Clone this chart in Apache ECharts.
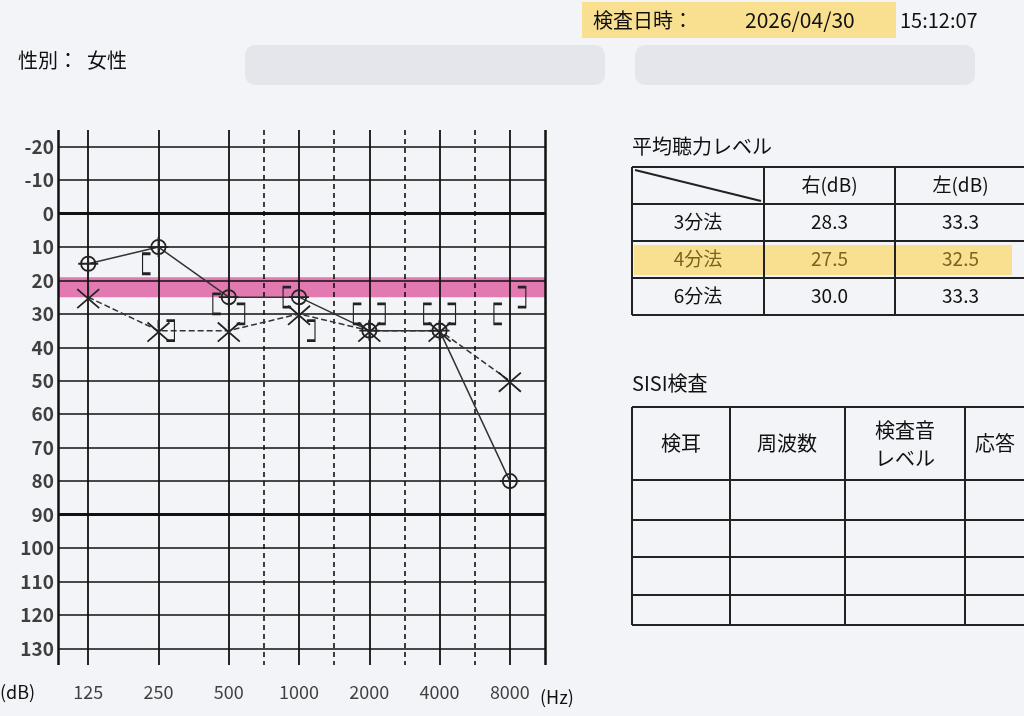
<!DOCTYPE html>
<html><head><meta charset="utf-8">
<script src="https://cdn.jsdelivr.net/npm/echarts@6/dist/echarts.min.js"></script>
<style>html,body{margin:0;background:#f3f4f8}#c{width:1024px;height:716px}</style></head>
<body><div id="c"></div>
<script>
const freqs = ['125','250','500','1000','2000','4000','8000'];
const halfFreqs = [750,1500,3000,6000];
const dbTicks = [-20,-10,0,10,20,30,40,50,60,70,80,90,100,110,120,130];
const rightAir = [15,10,25,25,35,35,80];
const leftAir = [25,35,35,30,35,35,50];
const rightBone = [null,15,27,25,30,30,30];
const leftBone = [null,35,30,35,30,30,25];
const tableRows = ['3分法','4分法','6分法'];
const tableRight = ['28.3','27.5','30.0'];
const tableLeft = ['33.3','32.5','33.3'];

const chart = echarts.init(document.getElementById('c'));
const F = '"Noto Sans CJK JP", sans-serif';
const pts = (arr, off) => arr.map((v,i)=> v==null?null:[i+off, v]).filter(Boolean);
const crossCircle = 'path://M10,0A10,10 0 1 1 9.99,0 Z M10,-4 L10,24 M-4,10 L24,10';
const xMark = 'path://M0,0 L20,20 M20,0 L0,20 M10,-3 L10,6';
const lb = 'path://M6,0 L0,0 L0,16 L6,16';
const rb = 'path://M0,0 L6,0 L6,16 L0,16';

const g = [];
const tx=632, ty=167, cw=[132,131,131,40], rh=[37,37,37,37];
const colX=[tx]; cw.forEach(w=>colX.push(colX[colX.length-1]+w));
const rowY=[ty]; rh.forEach(h=>rowY.push(rowY[rowY.length-1]+h));
g.push({type:'rect',shape:{x:tx+2,y:rowY[2]+4,width:378,height:30},style:{fill:'rgba(250,215,100,0.7)'}});
rowY.forEach(y=>g.push({type:'line',shape:{x1:tx,y1:y,x2:1024,y2:y},style:{stroke:'#222',lineWidth:2}}));
colX.slice(0,4).forEach(x=>g.push({type:'line',shape:{x1:x,y1:ty,x2:x,y2:rowY[4]},style:{stroke:'#222',lineWidth:2}}));
g.push({type:'line',shape:{x1:tx+3,y1:ty+3,x2:colX[1]-3,y2:rowY[1]-3},style:{stroke:'#222',lineWidth:2}});
const T=(x,y,t,s,al,c)=>g.push({type:'text',x,y,style:{text:t,font:`${s||19}px ${F}`,fill:c||'#111',align:al||'center',verticalAlign:'middle'}});
T(tx,146,'平均聴力レベル',20,'left');
T((colX[1]+colX[2])/2,ty+18,'右(dB)',19);
T((colX[2]+colX[3])/2,ty+18,'左(dB)',19);
tableRows.forEach((r,i)=>{const y=rowY[i+1]+18;const c=i==1?'#7a6420':'#111';
 T((colX[0]+colX[1])/2,y,r,19,'center',c);T((colX[1]+colX[2])/2,y,tableRight[i],19,'center',c);T((colX[2]+colX[3])/2,y,tableLeft[i],19,'center',c);});
T(tx,383,'SISI検査',20,'left');
const sx=[632,730,845,965], sy=[407,480,520,557,595,625];
sy.forEach(y=>g.push({type:'line',shape:{x1:632,y1:y,x2:1024,y2:y},style:{stroke:'#222',lineWidth:2}}));
sx.forEach(x=>g.push({type:'line',shape:{x1:x,y1:407,x2:x,y2:625},style:{stroke:'#222',lineWidth:2}}));
T(681,443,'検耳',20);T(787,443,'周波数',20);T(905,430,'検査音',20);T(905,458,'レベル',20);T(995,443,'応答',20,'center');
g.push({type:'rect',shape:{x:582,y:2,width:314,height:36},style:{fill:'rgba(250,215,100,0.7)'}});
T(593,20,'検査日時：',20,'left');T(745,20,'2026/04/30',21,'left');T(900,20,'15:12:07',20,'left');
T(18,60,'性別：  女性',20,'left');
g.push({type:'rect',shape:{x:245,y:45,width:360,height:40,r:10},style:{fill:'rgba(225,226,232,0.8)'}});
g.push({type:'rect',shape:{x:635,y:45,width:340,height:40,r:10},style:{fill:'rgba(225,226,232,0.8)'}});
g.push({type:'text',x:540,y:697,style:{text:'(Hz)',font:`18px ${F}`,fill:'#111',verticalAlign:'middle'}});
g.push({type:'text',x:0,y:692,style:{text:'(dB)',font:`18px ${F}`,fill:'#111',verticalAlign:'middle'}});

const sym = (name,data,symbol,size,line,dash)=>({type:'line',name,data,symbol,symbolSize:size,showSymbol:true,
 lineStyle:{color:'#333',width:line?1.5:0,type:dash?'dashed':'solid',opacity:line?1:0},
 itemStyle:{color:'transparent',borderColor:'#222',borderWidth:1.8},z:5});

chart.setOption({
 animation:false,
 graphic:g,
 grid:{left:58,top:130,width:487,height:535},
 xAxis:{type:'value',min:-0.43,max:6.5,
  axisLine:{show:false},axisTick:{show:false},splitLine:{show:false},axisLabel:{show:false}},
 yAxis:{type:'value',inverse:true,min:-25,max:135,interval:5,
  axisLine:{show:false},axisTick:{show:false},splitLine:{show:false},axisLabel:{show:false}},
 series:[
  {type:'line',data:[],silent:true,
   markLine:{symbol:'none',silent:true,label:{show:false},
    data:[
     ...dbTicks.map(v=>({yAxis:v,lineStyle:{color:'#111',width:(v===0||v===90)?3:1.6,type:'solid'}})),
     ...freqs.map((f,i)=>({xAxis:i,lineStyle:{color:'#111',width:1.8,type:'solid'}})),
     ...halfFreqs.map((f,i)=>({xAxis:i+2.5,lineStyle:{color:'#111',width:1.6,type:[5,4]}})),
     {xAxis:-0.43,lineStyle:{color:'#111',width:2.5,type:'solid'}},
     {xAxis:6.5,lineStyle:{color:'#111',width:2.5,type:'solid'}}
    ]},
   markArea:{silent:true,itemStyle:{color:'rgba(215,40,130,0.6)'},data:[[{yAxis:19},{yAxis:25}]]}},
  {type:'scatter',data:dbTicks.map(v=>[-0.43,v]),symbolSize:0,silent:true,
   label:{show:true,position:'left',distance:4,formatter:p=>p.value[1],fontSize:19,fontWeight:'bold',color:'#111',fontFamily:F}},
  {type:'scatter',data:freqs.map((f,i)=>[i,135]),symbolSize:0,silent:true,
   label:{show:true,position:'bottom',distance:18,formatter:p=>freqs[p.dataIndex],fontSize:18,color:'#111',fontFamily:F}},
  sym('右気導',pts(rightAir,0),crossCircle,20,true,false),
  sym('左気導',pts(leftAir,0),xMark,22,true,true),
  sym('右骨導',pts(rightBone,-0.17),lb,[8,20],false,false),
  sym('左骨導',pts(leftBone,0.17),rb,[8,20],false,false)
 ]
});
</script></body></html>
